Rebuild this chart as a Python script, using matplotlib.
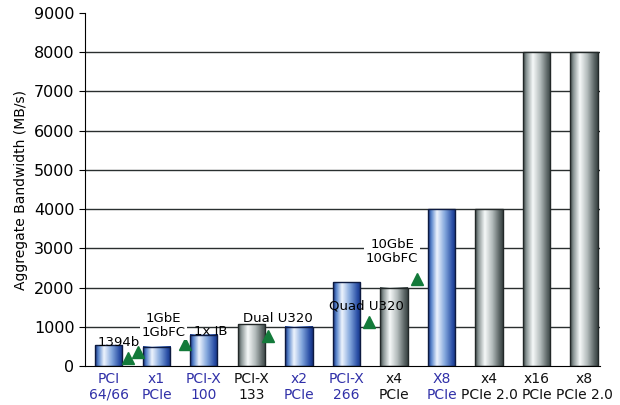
import numpy as np
import matplotlib.pyplot as plt
from matplotlib.colors import LinearSegmentedColormap

# bus bandwidths
buses = ["PCI\n64/66", "x1\nPCIe", "PCI-X\n100", "PCI-X\n133", "x2\nPCIe", "PCI-X\n266",
         "x4\nPCIe", "X8\nPCIe", "x4\nPCIe 2.0", "x16\nPCIe", "x8\nPCIe 2.0"]
bandwidth = [533, 500, 800, 1066, 1000, 2133, 2000, 4000, 4000, 8000, 8000]
is_blue = [True, True, True, False, True, True, False, True, False, False, False]

# device requirements (green markers) and their labels
device_x = [0.4, 0.61, 1.6, 3.35, 5.47, 6.48]
device_bw = [210, 360, 560, 765, 1120, 2220]
device_labels = ["1394b", "1GbE\n1GbFC", "1x IB", "Dual U320", "Quad U320", "10GbE\n10GbFC"]
label_x = [0.21, 1.14, 2.15, 3.55, 5.43, 5.96]
label_y = [590, 1045, 875, 1225, 1530, 2920]
label_boxed = [False, True, False, False, False, True]

blue_cmap = LinearSegmentedColormap.from_list(
    "bluebar", [(0, "#15307e"), (0.12, "#5a86cc"), (0.32, "#eef4fd"),
                (0.6, "#86a9de"), (0.88, "#2a4fa6"), (1, "#15307e")])
gray_cmap = LinearSegmentedColormap.from_list(
    "graybar", [(0, "#3a4444"), (0.12, "#8a9595"), (0.35, "#f6f9f9"),
                (0.62, "#b4bcbc"), (0.88, "#5a6464"), (1, "#394242")])

fig = plt.figure(figsize=(6.2, 4.05), dpi=100)
ax = fig.add_axes([0.137, 0.096, 0.831, 0.872])

width = 0.57
grad = np.linspace(0, 1, 128).reshape(1, -1)
for i, (val, blue) in enumerate(zip(bandwidth, is_blue)):
    cmap = blue_cmap if blue else gray_cmap
    ax.imshow(grad, cmap=cmap, aspect="auto", zorder=2,
              extent=[i - width / 2, i + width / 2, 0, val], interpolation="bilinear")
    ax.bar(i, val, width=width, facecolor="none",
           edgecolor="#0d1a40" if blue else "#222828", linewidth=1.0, zorder=3)

ax.plot(device_x, device_bw, linestyle="none", marker="^", markersize=9,
        color="#137a3a", zorder=4)

for txt, x, y, boxed in zip(device_labels, label_x, label_y, label_boxed):
    kw = {}
    if boxed:
        kw["bbox"] = dict(facecolor="white", edgecolor="none", pad=1)
    ax.text(x, y, txt, ha="center", va="center", fontsize=9.5,
            linespacing=1.1, zorder=5, **kw)

ax.set_xlim(-0.505, 10.34)
ax.set_ylim(0, 9000)
ax.set_yticks(range(0, 9001, 1000))
ax.set_yticks(range(0, 9001, 1000))
for y in range(1000, 9000, 1000):
    ax.axhline(y, color="#2a2f2f", linewidth=1.0, zorder=1)

ax.set_xticks(range(len(buses)))
ax.set_xticklabels(buses, fontsize=10, linespacing=1.2)
for lbl, blue in zip(ax.get_xticklabels(), is_blue):
    lbl.set_color("#3030a8" if blue else "#111111")
ax.tick_params(axis="x", length=0, pad=4)
ax.tick_params(axis="y", labelsize=11.5, length=4, direction="out")
ax.set_ylabel("Aggregate Bandwidth (MB/s)", fontsize=10)

ax.spines["top"].set_visible(False)
ax.spines["right"].set_visible(False)

plt.savefig("out.png", dpi=100)
